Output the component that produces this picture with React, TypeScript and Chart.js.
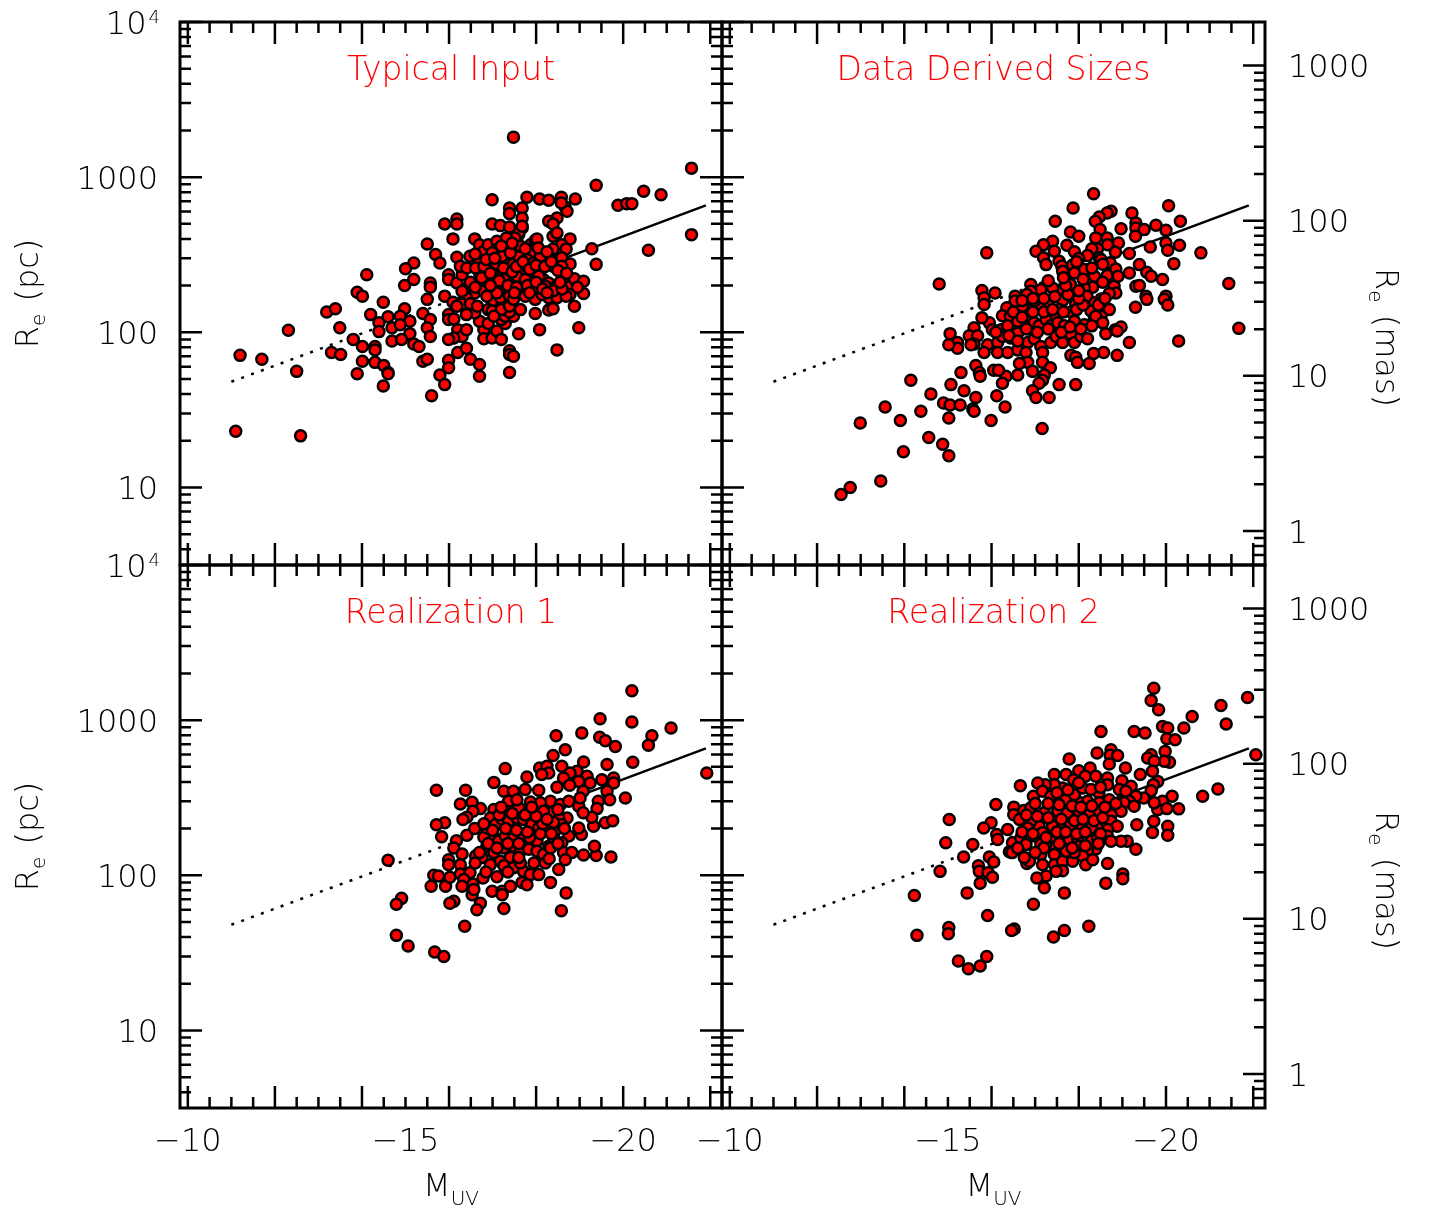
import { useEffect, useRef } from "react";
import { Chart, registerables } from "chart.js";

Chart.register(...registerables);

const FIG_W = 1429;
const FIG_H = 1207;
const FONT = "'DejaVu Sans', 'Liberation Sans', sans-serif";
const WEIGHT = "200";

// M_UV axis (faint on the left, bright on the right) and R_e range in pc
const MUV_FAINT = -9.82;
const MUV_BRIGHT = -22.27;
const RE_MIN = 3.1623;
const RE_MAX = 10000;
// angular scale used for the right-hand axis: pc per milli-arcsecond
const PC_PER_MAS = 5.24;

// size-luminosity relation: dotted where extrapolated, solid where constrained
const fitMuv = [-11, -18, -21.9];
const fitRe = [48, 256, 657];

const muvTickLabels = [-10, -15, -20];
const pcTickLabels = [10, 100, 1000, 10000];
const masTickLabels = [1, 10, 100, 1000];

// [M_UV, R_e (pc)]
const typicalInput = [
  [-17.48, 1811], [-21.57, 1143], [-19.38, 885], [-20.47, 810], [-20.87, 771], [-19.88, 658], [-20.08, 675], [-20.2, 675],
  [-21.57, 426], [-20.58, 338], [-19.38, 274], [-19.28, 346], [-16.99, 716],
  [-17.79, 741], [-18.08, 723], [-18.29, 709], [-18.58, 741], [-18.9, 723],
  [-18.67, 642], [-18.71, 602], [-18.58, 681],
  [-17.39, 632], [-17.39, 582], [-17.68, 632], [-17.68, 546],
  [-18.48, 546], [-18.29, 519], [-18.39, 499],
  [-16.99, 499], [-17.18, 487], [-17.39, 477], [-17.68, 470],
  [-15.9, 499], [-16.18, 537], [-16.18, 499],
  [-16.09, 400], [-15.5, 371], [-16.59, 400],
  [-18.39, 416], [-18.48, 437], [-18.78, 400], [-18.59, 367], [-18.69, 344], [-18.39, 344],
  [-15.69, 317], [-15.79, 280], [-16.18, 305], [-16.48, 309], [-16.8, 305],
  [-15.19, 280], [-15.0, 257], [-14.11, 235],
  [-15.19, 219], [-14.98, 200], [-15.57, 208], [-15.57, 195],
  [-13.89, 181], [-14.01, 171], [-14.49, 156],
  [-15.5, 163], [-15.9, 171], [-16.09, 156],
  [-13.19, 135], [-13.39, 142], [-14.2, 130], [-14.6, 126], [-14.98, 142], [-14.88, 127],
  [-14.39, 115], [-14.69, 107], [-15.1, 118], [-14.88, 112], [-15.4, 132], [-15.57, 121], [-15.5, 107],
  [-13.49, 107], [-14.39, 101], [-15.1, 98], [-15.57, 94],
  [-12.31, 103], [-13.8, 90], [-14.01, 81], [-14.3, 81], [-14.3, 77], [-14.69, 88], [-14.91, 90],
  [-11.2, 71], [-11.7, 67], [-12.5, 56], [-13.3, 74], [-13.51, 72],
  [-14.01, 65], [-14.3, 64], [-14.5, 61], [-14.6, 55], [-14.6, 54], [-13.89, 54], [-14.49, 45],
  [-15.19, 84], [-15.31, 81], [-15.4, 65], [-15.5, 67], [-15.79, 53], [-15.9, 46], [-15.6, 39],
  [-15.99, 66], [-15.99, 59], [-16.2, 74], [-16.4, 79], [-16.49, 67], [-16.7, 62], [-16.7, 52],
  [-11.1, 23], [-12.59, 21.5],
  [-17.39, 76], [-17.39, 72], [-17.48, 70], [-17.39, 55],
  [-18.48, 77], [-18.98, 107], [-18.08, 104], [-17.6, 98],
  [-15.99, 130], [-15.99, 121], [-16.11, 122], [-16.2, 104], [-16.3, 94], [-16.11, 92], [-15.99, 90], [-16.4, 104],
  [-16.8, 104], [-16.8, 91], [-16.99, 92], [-17.1, 102], [-17.2, 90], [-17.29, 114], [-17.2, 121], [-17.29, 127],
  [-17.48, 127], [-17.39, 135], [-16.7, 118], [-16.9, 114],
  [-17.98, 132], [-18.29, 139], [-18.39, 142], [-18.88, 147],
  [-15.99, 235], [-15.99, 219], [-16.18, 208], [-16.3, 235], [-16.4, 193], [-16.49, 210], [-16.59, 179], [-16.4, 167],
  [-16.3, 152], [-16.49, 153], [-16.59, 133], [-16.4, 130],
  [-16.7, 367], [-16.8, 333], [-16.9, 367], [-17.1, 386], [-17.09, 341], [-16.99, 325], [-17.29, 341], [-17.48, 350],
  [-17.6, 426], [-17.68, 333], [-17.87, 367], [-17.98, 392], [-17.89, 330],
  [-16.7, 280], [-16.9, 254], [-16.99, 280], [-17.09, 277], [-17.18, 241], [-17.29, 280], [-17.39, 294], [-17.48, 276],
  [-17.6, 309], [-17.68, 247], [-17.79, 294], [-17.89, 241], [-18.08, 247], [-18.17, 290], [-18.29, 305], [-18.48, 294],
  [-18.59, 302], [-18.78, 276],
  [-16.7, 241], [-16.8, 208], [-16.9, 210], [-16.99, 188], [-17.09, 203], [-17.18, 230], [-17.29, 198], [-17.39, 219],
  [-17.48, 219], [-17.6, 208], [-17.68, 188], [-17.89, 213], [-17.98, 188], [-18.17, 219], [-18.29, 208], [-18.48, 200],
  [-18.78, 200], [-18.88, 221], [-19.09, 213], [-19.09, 178], [-18.78, 175],
  [-16.8, 184], [-16.99, 159], [-17.18, 167], [-17.39, 171], [-17.39, 151], [-17.6, 179], [-17.98, 163], [-18.29, 167],
  [-18.48, 167], [-18.69, 171],
  [-16.9, 140], [-16.99, 137], [-17.2, 140], [-17.39, 147],
  [-17.6, 437], [-17.68, 482], [-17.51, 406], [-17.32, 406], [-18.02, 400],
  [-16.26, 266], [-16.41, 260], [-16.61, 260], [-16.8, 266], [-17.22, 309], [-17.41, 325], [-17.64, 358], [-17.79, 266],
  [-17.94, 280], [-18.1, 309], [-18.4, 266], [-18.59, 266], [-17.03, 225], [-17.26, 219], [-17.56, 230], [-17.75, 219],
  [-18.06, 230], [-18.21, 198], [-18.63, 225], [-16.87, 171], [-17.1, 179], [-17.48, 163], [-17.75, 171], [-18.14, 175],
  [-16.3, 184], [-16.18, 147], [-16.65, 147], [-17.03, 127], [-17.64, 140],
  [-16.6, 320], [-16.85, 295], [-17.05, 300], [-17.25, 260], [-17.45, 245], [-17.55, 265], [-17.7, 285], [-17.85, 255],
  [-18.0, 270], [-18.2, 265], [-18.35, 285], [-18.5, 250], [-18.7, 240], [-16.75, 225], [-16.95, 240], [-17.15, 215],
  [-17.35, 200], [-17.55, 195], [-17.8, 200], [-18.0, 210], [-18.15, 190], [-18.4, 185], [-18.6, 190], [-18.95, 195],
  [-16.6, 195], [-16.95, 200], [-17.5, 180], [-17.85, 180], [-18.25, 180], [-18.55, 210], [-17.2, 360], [-17.45, 375],
  [-17.75, 345], [-18.05, 350], [-18.25, 330],
];

const dataDerived = [
  [-18.34, 782], [-17.87, 632], [-20.06, 655], [-18.74, 602], [-18.65, 587], [-18.47, 554], [-18.38, 519], [-19.22, 587],
  [-17.46, 519], [-20.33, 519], [-19.77, 489], [-20.0, 454], [-18.97, 465], [-19.31, 506], [-19.31, 470], [-19.5, 459],
  [-18.49, 459], [-17.81, 443], [-18.0, 416], [-19.3, 416], [-18.39, 406], [-18.65, 406],
  [-17.4, 386], [-17.19, 367], [-17.73, 364], [-18.91, 376], [-18.66, 367], [-20.0, 376], [-20.31, 364], [-19.64, 355],
  [-20.8, 325], [-20.04, 338], [-15.89, 325], [-17.02, 333], [-17.44, 333], [-17.9, 330], [-18.43, 346], [-18.3, 346],
  [-18.84, 328], [-19.16, 322], [-18.2, 312], [-18.0, 299],
  [-17.19, 302], [-17.55, 287], [-17.25, 273], [-18.47, 302], [-18.51, 294], [-18.72, 280], [-18.85, 256], [-19.39, 273],
  [-20.18, 277], [-19.16, 241], [-19.56, 244], [-19.66, 230], [-19.92, 219], [-17.61, 267], [-17.86, 271], [-18.13, 254],
  [-18.36, 230], [-18.65, 232], [-17.78, 230], [-17.9, 241], [-17.63, 247],
  [-14.8, 205], [-15.78, 186], [-16.08, 179], [-15.83, 167], [-15.83, 151], [-21.44, 206], [-21.67, 106], [-20.29, 88],
  [-19.31, 198], [-19.39, 200], [-18.81, 198], [-18.85, 179], [-19.54, 171], [-19.56, 163], [-20.0, 171], [-19.96, 163],
  [-20.04, 150], [-19.3, 145], [-18.7, 178], [-18.51, 164], [-18.32, 195], [-18.13, 193], [-18.19, 171], [-18.37, 155],
  [-18.7, 140], [-18.28, 137], [-18.51, 127],
  [-17.81, 203], [-17.59, 188], [-17.4, 193], [-17.13, 188], [-16.9, 203], [-16.9, 184], [-17.82, 171], [-17.93, 153],
  [-17.63, 160], [-17.55, 140], [-17.82, 135], [-17.48, 127], [-17.29, 151], [-17.11, 144], [-16.98, 159], [-16.81, 175],
  [-16.83, 140], [-16.71, 147], [-16.54, 171], [-16.54, 159], [-16.35, 144], [-16.25, 128], [-16.43, 127], [-15.95, 115],
  [-15.78, 124], [-16.02, 104], [-16.22, 104], [-16.37, 110], [-16.6, 118], [-16.83, 127], [-16.98, 115], [-17.09, 110],
  [-17.25, 121], [-17.36, 110], [-17.52, 115], [-17.67, 110], [-17.9, 118], [-18.13, 112], [-18.36, 124], [-18.39, 127],
  [-15.05, 98], [-15.6, 107], [-15.49, 95], [-15.68, 95], [-15.6, 84], [-15.22, 86], [-15.22, 79], [-15.02, 83],
  [-15.53, 83], [-15.91, 83], [-15.83, 74], [-16.14, 86], [-16.25, 94], [-16.14, 74], [-16.37, 74], [-16.44, 92],
  [-16.6, 99], [-16.6, 77], [-16.83, 86], [-16.79, 74], [-16.98, 91], [-17.13, 81], [-17.17, 74], [-17.36, 86],
  [-17.48, 94], [-17.63, 86], [-17.82, 97], [-17.9, 86], [-18.05, 94], [-18.2, 91],
  [-18.62, 98], [-18.84, 104], [-18.97, 108], [-18.88, 102], [-19.16, 86], [-18.88, 71], [-18.57, 74], [-18.34, 73],
  [-17.82, 71], [-17.93, 69], [-17.97, 64], [-18.24, 63],
  [-16.83, 64], [-16.64, 63], [-17.17, 64], [-17.35, 59], [-16.94, 56], [-16.6, 53], [-16.33, 52], [-16.05, 57],
  [-16.16, 57], [-15.64, 61], [-15.72, 55], [-15.74, 52], [-15.3, 55], [-16.25, 47], [-17.21, 53], [-17.17, 49],
  [-17.09, 47], [-16.94, 42], [-17.02, 38], [-17.32, 38], [-17.55, 46], [-17.93, 46], [-16.12, 39], [-16.31, 33],
  [-14.15, 49], [-14.61, 40], [-15.07, 46], [-15.37, 42], [-15.64, 38], [-14.9, 35], [-15.05, 34], [-15.28, 34],
  [-14.38, 31], [-15.57, 32], [-15.6, 31], [-15.02, 28], [-15.99, 27], [-13.56, 33], [-13.91, 27], [-12.99, 26],
  [-14.56, 21], [-14.88, 19], [-15.02, 16], [-13.98, 17], [-17.16, 24], [-13.46, 11.0], [-12.76, 10.0], [-12.55, 9.0],
  [-16.5, 135], [-16.7, 125], [-16.95, 135], [-17.2, 135], [-17.4, 140], [-17.65, 135], [-17.95, 140], [-18.1, 150],
  [-18.0, 165], [-17.75, 175], [-17.45, 170], [-17.2, 165], [-16.95, 165], [-16.7, 160], [-17.3, 105], [-17.05, 100],
  [-16.8, 105], [-17.6, 100], [-17.8, 108], [-18.05, 105], [-18.3, 110], [-18.55, 115], [-18.45, 150], [-18.6, 165],
  [-18.0, 185], [-17.7, 200], [-17.3, 215], [-17.65, 225], [-18.1, 220], [-18.55, 210], [-18.9, 230], [-18.3, 260],
  [-17.95, 285], [-18.55, 275], [-16.4, 95], [-16.1, 100], [-16.6, 88],
];

const realization1 = [
  [-20.2, 1545], [-19.47, 1021], [-20.2, 972], [-21.1, 889], [-18.46, 794], [-19.05, 826], [-19.46, 775], [-19.59, 737],
  [-19.82, 677], [-20.66, 794], [-20.58, 688], [-20.22, 535], [-21.92, 456],
  [-18.67, 645], [-18.39, 591], [-19.09, 537], [-19.63, 517], [-18.59, 504], [-18.08, 492], [-18.25, 504], [-18.29, 456],
  [-18.13, 446], [-17.29, 487], [-17.79, 430], [-18.94, 468], [-18.78, 456], [-19.17, 435], [-19.51, 413], [-19.78, 424],
  [-18.63, 424], [-18.98, 403], [-19.24, 394], [-19.78, 394], [-19.63, 348], [-19.69, 307], [-20.05, 315], [-19.43, 300],
  [-19.4, 269], [-19.59, 218], [-19.76, 225], [-19.32, 207], [-19.28, 237], [-19.04, 183], [-18.98, 202],
  [-15.71, 353], [-16.38, 353], [-17.03, 397], [-17.26, 348], [-17.48, 348], [-17.75, 357], [-18.06, 353], [-18.48, 369],
  [-18.77, 380], [-19.08, 348], [-18.33, 300], [-18.1, 293], [-18.56, 286], [-18.75, 300], [-18.98, 279], [-19.01, 315],
  [-19.08, 253], [-18.71, 234], [-18.52, 234], [-18.33, 253], [-18.17, 259], [-17.87, 253], [-17.6, 272], [-17.37, 300],
  [-17.56, 307], [-17.87, 297], [-17.32, 259], [-17.03, 265], [-16.95, 234], [-16.72, 269], [-16.53, 296], [-16.26, 288],
  [-16.55, 259], [-16.41, 237], [-16.32, 229], [-15.9, 218], [-15.71, 212], [-15.83, 177], [-16.17, 167], [-16.41, 181],
  [-16.59, 200], [-16.8, 176], [-16.87, 202], [-17.06, 212], [-17.22, 229], [-17.37, 223], [-17.56, 234], [-17.71, 229],
  [-17.9, 212], [-18.06, 202], [-18.25, 197], [-18.44, 194], [-18.59, 212], [-18.75, 179], [-18.59, 162],
  [-16.87, 154], [-17.03, 174], [-17.14, 166], [-17.29, 179], [-17.48, 174], [-17.68, 170], [-17.87, 162], [-18.02, 167],
  [-18.29, 154], [-18.4, 174], [-17.03, 140], [-17.26, 150], [-17.48, 154], [-17.64, 143], [-17.83, 147], [-18.02, 143],
  [-18.17, 136], [-18.33, 150], [-18.63, 140], [-18.82, 140], [-19.09, 135], [-19.38, 134], [-19.72, 131], [-19.34, 154],
  [-14.6, 125], [-15.99, 126], [-16.11, 150], [-16.3, 137], [-15.99, 117], [-16.26, 117], [-16.61, 133], [-16.76, 130],
  [-16.95, 117], [-17.18, 123], [-17.41, 130], [-17.56, 117], [-17.71, 106], [-17.87, 101], [-18.06, 101], [-18.21, 120],
  [-18.52, 109], [-18.67, 126], [-17.26, 115], [-17.48, 112], [-17.64, 120],
  [-15.65, 100], [-15.76, 99], [-15.59, 85], [-15.92, 85], [-16.02, 97], [-16.26, 102], [-16.48, 104], [-16.34, 94],
  [-16.3, 85], [-16.55, 88], [-16.53, 75], [-16.57, 81], [-16.78, 96], [-17.1, 98], [-16.99, 79], [-17.22, 79],
  [-17.22, 75], [-17.41, 85], [-17.68, 90], [-17.79, 87], [-18.33, 90], [-18.69, 77], [-18.58, 59],
  [-14.91, 71], [-14.79, 65], [-16.11, 68], [-16.02, 66], [-16.72, 66], [-16.64, 60], [-17.26, 61], [-16.36, 47],
  [-14.79, 41], [-15.06, 35], [-15.67, 32], [-15.88, 30],
  [-16.7, 140], [-16.9, 160], [-17.1, 150], [-17.35, 160], [-17.6, 160], [-17.85, 175], [-18.1, 185], [-18.35, 185],
  [-17.0, 195], [-17.3, 200], [-17.55, 195], [-17.8, 190], [-18.15, 215], [-18.4, 220], [-18.65, 200], [-16.8, 215],
  [-17.15, 245], [-17.45, 250], [-17.75, 245], [-18.0, 240], [-18.25, 230], [-18.5, 265], [-17.9, 275], [-17.2, 275],
  [-16.6, 120], [-16.85, 105], [-17.35, 105], [-17.6, 130], [-17.95, 120], [-18.3, 128], [-18.5, 160],
];

const realization2 = [
  [-19.72, 1607], [-19.66, 1340], [-19.83, 1167], [-21.87, 1401], [-21.26, 1244], [-21.38, 944], [-20.6, 1057], [-20.41, 889],
  [-19.92, 911], [-20.04, 889], [-20.02, 759], [-20.21, 748], [-19.27, 846], [-19.52, 826], [-18.51, 846], [-22.06, 599],
  [-19.98, 629], [-20.08, 535], [-19.96, 543], [-19.66, 599], [-19.58, 570], [-19.73, 543], [-18.42, 614], [-18.74, 645],
  [-18.72, 593], [-18.89, 591], [-18.7, 522], [-17.78, 562],
  [-19.07, 492], [-19.41, 446], [-19.69, 468], [-19.81, 403], [-19.71, 384], [-19.66, 351], [-19.49, 315], [-20.14, 323],
  [-20.84, 323], [-21.19, 360], [-19.92, 300], [-19.81, 265], [-20.02, 269], [-20.29, 268], [-19.73, 293], [-19.72, 223],
  [-19.69, 189], [-20.04, 207], [-20.04, 181], [-19.33, 212], [-19.31, 147], [-19.11, 166], [-18.97, 166],
  [-18.26, 492], [-18.0, 472], [-17.44, 446], [-17.71, 446], [-17.88, 413], [-18.15, 435], [-18.39, 435], [-18.66, 424],
  [-18.99, 407], [-19.2, 375], [-18.66, 384], [-18.46, 340], [-18.93, 357], [-19.08, 348], [-19.31, 323], [-19.16, 300],
  [-19.04, 293], [-19.27, 279], [-18.97, 259], [-18.74, 246], [-18.7, 307], [-18.47, 293], [-18.2, 300], [-17.97, 300],
  [-17.71, 307], [-17.63, 365], [-17.44, 384], [-17.23, 384], [-17.06, 394], [-16.66, 378], [-16.96, 323], [-17.17, 348],
  [-17.36, 323], [-17.9, 331], [-18.09, 365], [-18.28, 357],
  [-16.1, 286], [-16.51, 275], [-16.51, 246], [-16.74, 262], [-16.9, 272], [-17.21, 253], [-17.52, 259], [-17.74, 253],
  [-18.01, 259], [-18.24, 246], [-18.47, 259], [-18.74, 223], [-18.88, 207], [-18.66, 197], [-18.43, 202], [-18.28, 202],
  [-18.05, 197], [-17.78, 207], [-17.59, 202], [-17.4, 207], [-17.09, 207], [-16.9, 223], [-16.64, 229], [-16.83, 202],
  [-16.37, 197], [-15.99, 218], [-15.82, 202], [-16.12, 183], [-16.14, 170], [-16.48, 162], [-16.67, 174], [-16.79, 158],
  [-16.98, 179], [-17.17, 188], [-17.13, 158], [-17.4, 174], [-17.48, 154], [-17.63, 183], [-17.78, 170], [-17.97, 174],
  [-18.01, 154], [-18.28, 166], [-18.43, 174], [-18.66, 179], [-18.74, 166], [-18.39, 148], [-18.2, 143],
  [-15.03, 229], [-14.95, 162], [-15.57, 158], [-15.36, 131], [-15.95, 131], [-16.05, 122], [-15.7, 115], [-15.72, 106],
  [-15.92, 104], [-16.02, 97], [-14.82, 106], [-15.74, 89], [-15.44, 77], [-14.23, 74], [-16.41, 142], [-16.47, 140],
  [-16.81, 119], [-16.87, 123], [-17.13, 136], [-17.17, 117], [-17.44, 136], [-17.44, 117], [-17.63, 123], [-17.63, 107],
  [-17.48, 106], [-17.86, 123], [-18.09, 133], [-18.16, 117], [-18.32, 126], [-17.9, 140], [-17.71, 143], [-17.25, 99],
  [-17.04, 96], [-17.21, 83], [-18.66, 119], [-19.01, 102], [-19.01, 95], [-18.62, 89], [-17.67, 77], [-16.96, 65],
  [-15.91, 55],
  [-14.29, 41], [-15.02, 46], [-15.01, 42], [-16.52, 45], [-16.46, 44], [-17.42, 40], [-17.67, 44], [-18.23, 47],
  [-15.24, 28], [-15.47, 25], [-15.74, 26], [-15.89, 30],
  [-16.7, 190], [-16.95, 185], [-17.25, 175], [-17.5, 190], [-17.7, 190], [-17.95, 185], [-18.15, 190], [-18.5, 185],
  [-16.8, 245], [-17.05, 240], [-17.3, 235], [-17.6, 230], [-17.9, 225], [-18.1, 230], [-18.35, 225], [-18.55, 235],
  [-17.0, 290], [-17.3, 290], [-17.55, 285], [-17.85, 280], [-18.05, 275], [-18.3, 280], [-18.6, 275], [-18.85, 290],
  [-17.5, 340], [-17.75, 355], [-18.0, 395], [-18.5, 370], [-17.2, 150], [-17.55, 160], [-17.85, 150], [-18.15, 155],
  [-18.45, 160], [-16.6, 150], [-17.0, 140], [-16.75, 130],
];

type Panel = {
  title: string;
  points: number[][];
  left: number;
  top: number;
  right: number;
  bottom: number;
  leftAxis: boolean;
  bottomAxis: boolean;
};

const panels: Panel[] = [
  { title: "Typical Input", points: typicalInput, left: 180, top: 22, right: 722, bottom: 565, leftAxis: true, bottomAxis: false },
  { title: "Data Derived Sizes", points: dataDerived, left: 722, top: 22, right: 1265, bottom: 565, leftAxis: false, bottomAxis: false },
  { title: "Realization 1", points: realization1, left: 180, top: 565, right: 722, bottom: 1108, leftAxis: true, bottomAxis: true },
  { title: "Realization 2", points: realization2, left: 722, top: 565, right: 1265, bottom: 1108, leftAxis: false, bottomAxis: true },
];

const LABEL_PX = 32;
const SUB_PX = 20;
const TITLE_PX = 33;
const MAJOR_LEN = 22;
const MINOR_LEN = 11;

function font(px: number) {
  return `${WEIGHT} ${px}px ${FONT}`;
}

function logTicks(lo: number, hi: number) {
  const out: { v: number; major: boolean }[] = [];
  const e0 = Math.floor(Math.log10(lo));
  const e1 = Math.ceil(Math.log10(hi));
  for (let e = e0; e <= e1; e++) {
    for (let k = 1; k <= 9; k++) {
      const v = k * Math.pow(10, e);
      if (v >= lo * 0.999 && v <= hi * 1.001) out.push({ v, major: k === 1 });
    }
  }
  return out;
}

// "R_e (unit)" written along a rotated baseline
function drawReTitle(ctx: CanvasRenderingContext2D, baseX: number, centerY: number, angle: number, unit: string) {
  ctx.save();
  ctx.translate(baseX, centerY);
  ctx.rotate(angle);
  const big = font(LABEL_PX);
  const small = font(SUB_PX);
  const rest = " (" + unit + ")";
  ctx.font = big;
  const wR = ctx.measureText("R").width;
  const wRest = ctx.measureText(rest).width;
  ctx.font = small;
  const wE = ctx.measureText("e").width;
  let x = -(wR + wE + 2 + wRest) / 2;
  ctx.textAlign = "left";
  ctx.textBaseline = "alphabetic";
  ctx.font = big;
  ctx.fillText("R", x, 0);
  x += wR;
  ctx.font = small;
  ctx.fillText("e", x, 7);
  x += wE + 2;
  ctx.font = big;
  ctx.fillText(rest, x, 0);
  ctx.restore();
}

function frameAndLabels(panel: Panel) {
  return {
    id: "frameAndLabels",
    afterDatasetsDraw(chart: any) {
      const ctx: CanvasRenderingContext2D = chart.ctx;
      const a = chart.chartArea;
      const xs = chart.scales.x;
      const ys = chart.scales.y;
      ctx.save();
      ctx.strokeStyle = "#000";
      ctx.fillStyle = "#000";
      ctx.lineCap = "butt";

      // M_UV ticks every half magnitude, long ones at even magnitudes
      ctx.lineWidth = 2.5;
      ctx.beginPath();
      for (let k = 0; k <= 24; k++) {
        const px = xs.getPixelForValue(-10 - 0.5 * k);
        const len = k % 4 === 0 ? MAJOR_LEN : MINOR_LEN;
        ctx.moveTo(px, a.bottom);
        ctx.lineTo(px, a.bottom - len);
        ctx.moveTo(px, a.top);
        ctx.lineTo(px, a.top + len);
      }
      // R_e ticks in pc on the left, pc or mas on the right
      for (const t of logTicks(RE_MIN, RE_MAX)) {
        const py = ys.getPixelForValue(t.v);
        const len = t.major ? MAJOR_LEN : MINOR_LEN;
        ctx.moveTo(a.left, py);
        ctx.lineTo(a.left + len, py);
        if (panel.leftAxis) {
          ctx.moveTo(a.right, py);
          ctx.lineTo(a.right - len, py);
        }
      }
      if (!panel.leftAxis) {
        for (const t of logTicks(RE_MIN / PC_PER_MAS, RE_MAX / PC_PER_MAS)) {
          const py = ys.getPixelForValue(t.v * PC_PER_MAS);
          const len = t.major ? MAJOR_LEN : MINOR_LEN;
          ctx.moveTo(a.right, py);
          ctx.lineTo(a.right - len, py);
        }
      }
      ctx.stroke();

      ctx.lineWidth = 3;
      ctx.strokeRect(a.left, a.top, a.right - a.left, a.bottom - a.top);

      const big = font(LABEL_PX);
      const digitHalf = LABEL_PX * 0.729 / 2;

      if (panel.leftAxis) {
        const xr = a.left - 22;
        for (const v of pcTickLabels) {
          const py = ys.getPixelForValue(v);
          if (v === 10000) {
            ctx.font = font(18);
            const w4 = ctx.measureText("4").width;
            ctx.textAlign = "left";
            ctx.fillText("4", xr - w4 + 2, py - digitHalf + 13);
            ctx.font = big;
            ctx.textAlign = "right";
            ctx.fillText("10", xr - w4, py + digitHalf);
          } else {
            ctx.font = big;
            ctx.textAlign = "right";
            ctx.fillText(String(v), xr, py + digitHalf);
          }
        }
        drawReTitle(ctx, 38, (a.top + a.bottom) / 2, -Math.PI / 2, "pc");
      } else {
        ctx.font = big;
        ctx.textAlign = "left";
        for (const v of masTickLabels) {
          const py = ys.getPixelForValue(v * PC_PER_MAS);
          ctx.fillText(String(v), a.right + 23, py + digitHalf);
        }
        drawReTitle(ctx, 1376, (a.top + a.bottom) / 2 + 44, Math.PI / 2, "mas");
      }

      if (panel.bottomAxis) {
        ctx.font = big;
        ctx.textAlign = "center";
        for (const m of muvTickLabels) {
          const px = xs.getPixelForValue(m);
          ctx.fillText("\u2212" + Math.abs(m), px, a.bottom + 43);
        }
        // M_UV
        const cx = (a.left + a.right) / 2;
        ctx.font = big;
        const wM = ctx.measureText("M").width;
        ctx.font = font(SUB_PX);
        const wUV = ctx.measureText("UV").width;
        const x0 = cx - (wM + wUV) / 2;
        ctx.textAlign = "left";
        ctx.font = big;
        ctx.fillText("M", x0, a.bottom + 88);
        ctx.font = font(SUB_PX);
        ctx.fillText("UV", x0 + wM, a.bottom + 97);
      }

      ctx.fillStyle = "#ff0000";
      ctx.font = font(TITLE_PX);
      ctx.textAlign = "center";
      ctx.fillText(panel.title, (a.left + a.right) / 2, a.top + 58);
      ctx.restore();
    },
  };
}

function PanelChart({ panel }: { panel: Panel }) {
  const ref = useRef<HTMLCanvasElement>(null);
  useEffect(() => {
    const canvas = ref.current;
    if (!canvas) return;
    const chart = new Chart(canvas, {
      type: "scatter",
      data: {
        datasets: [
          {
            data: panel.points.map(([m, r]) => ({ x: m, y: r })),
            pointRadius: 5.5,
            pointBorderWidth: 2.5,
            backgroundColor: "#ff0000",
            borderColor: "#000000",
            order: 0,
          },
          {
            data: [{ x: fitMuv[0], y: fitRe[0] }, { x: fitMuv[1], y: fitRe[1] }],
            showLine: true,
            borderDash: [3, 7.5],
            borderWidth: 2.5,
            borderColor: "#000000",
            pointRadius: 0,
            order: 1,
          },
          {
            data: [{ x: fitMuv[1], y: fitRe[1] }, { x: fitMuv[2], y: fitRe[2] }],
            showLine: true,
            borderWidth: 2.5,
            borderColor: "#000000",
            pointRadius: 0,
            order: 1,
          },
        ],
      },
      options: {
        responsive: false,
        animation: false,
        devicePixelRatio: 1,
        events: [],
        layout: {
          padding: { left: panel.left, top: panel.top, right: FIG_W - panel.right, bottom: FIG_H - panel.bottom },
        },
        scales: {
          x: { type: "linear", min: MUV_BRIGHT, max: MUV_FAINT, reverse: true, display: false, bounds: "data" },
          y: { type: "logarithmic", min: RE_MIN, max: RE_MAX, display: false, bounds: "data" },
        },
        plugins: { legend: { display: false }, tooltip: { enabled: false } },
      },
      plugins: [frameAndLabels(panel)],
    } as any);
    return () => chart.destroy();
  }, [panel]);
  return (
    <canvas
      ref={ref}
      width={FIG_W}
      height={FIG_H}
      style={{ position: "absolute", left: 0, top: 0, width: FIG_W, height: FIG_H }}
    />
  );
}

export default function App() {
  return (
    <div style={{ position: "absolute", left: 0, top: 0, width: FIG_W, height: FIG_H, background: "#ffffff", overflow: "hidden" }}>
      {panels.map((p) => (
        <PanelChart key={p.title} panel={p} />
      ))}
    </div>
  );
}
